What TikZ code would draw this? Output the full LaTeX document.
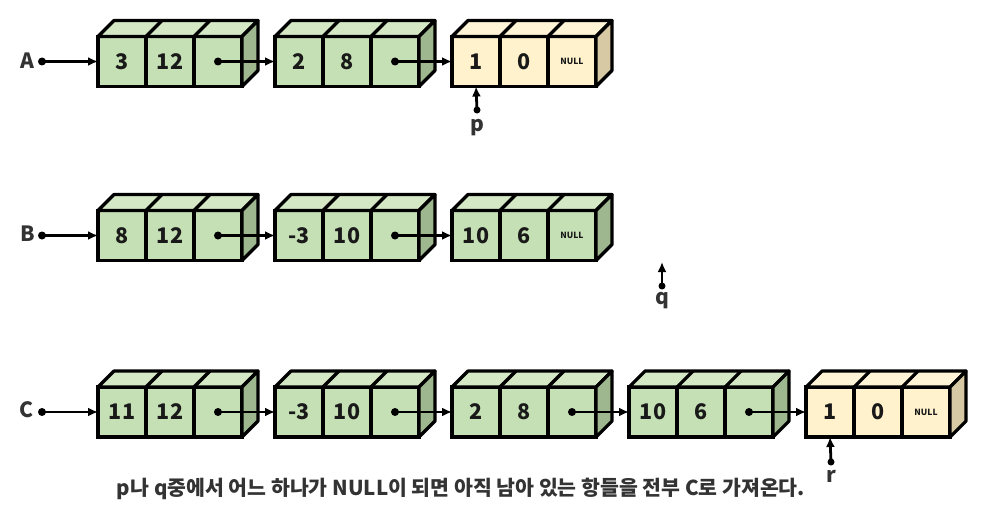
\documentclass[tikz,border=0pt]{standalone}
\usepackage{fontspec}
\setmainfont{Noto Sans CJK KR}
\usetikzlibrary{arrows.meta}
\definecolor{gF}{RGB}{197,224,180}
\definecolor{gT}{RGB}{212,232,198}
\definecolor{gS}{RGB}{158,183,143}
\definecolor{yF}{RGB}{255,242,204}
\definecolor{yT}{RGB}{255,244,214}
\definecolor{yS}{RGB}{214,201,164}
\definecolor{txt}{RGB}{51,51,51}
\tikzset{
  cell/.style={draw,line width=3.2pt,minimum width=48pt,minimum height=50pt,inner sep=0pt,outer sep=0pt,
    font=\bfseries\fontsize{21.5}{21.5}\selectfont,text=black!90},
  face/.style={draw,line width=3.2pt,line join=round},
  ptr/.style={line width=2.8pt,-{Latex[length=10pt,width=9pt]}},
  lbl/.style={font=\bfseries\fontsize{21}{21}\selectfont,text=txt,inner sep=0pt}
}
\newcommand\nulltxt{{\fontsize{8.5}{8.5}\selectfont NULL}}
\newcommand\lnode[7]{%
  \node[cell,fill=#7F] (#1a) at (#2+24,#3) {#4};
  \node[cell,fill=#7F,anchor=west] (#1b) at (#1a.east) {#5};
  \node[cell,fill=#7F,anchor=west] (#1c) at (#1b.east) {#6};
  \draw[face,fill=#7T] (#1a.north west) -- ++(16,-16) -- ([shift={(16,-16)}]#1c.north east) -- (#1c.north east) -- cycle;
  \draw[face] (#1a.north east) -- ++(16,-16);
  \draw[face] (#1b.north east) -- ++(16,-16);
  \draw[face,fill=#7S] (#1c.north east) -- ++(16,-16) -- ++(0,50) -- (#1c.south east) -- cycle;
}
\begin{document}
\begin{tikzpicture}[x=1pt,y=-1pt]
\useasboundingbox (0,0) rectangle (990,511);
% row A
\lnode{A1}{98}{61.5}{3}{12}{}{g}
\lnode{A2}{275}{61.5}{2}{8}{}{g}
\lnode{A3}{452}{61.5}{1}{0}{\nulltxt}{y}
% row B
\lnode{B1}{98}{235.5}{8}{12}{}{g}
\lnode{B2}{275}{235.5}{-3}{10}{}{g}
\lnode{B3}{452}{235.5}{10}{6}{\nulltxt}{g}
% row C
\lnode{C1}{98}{412}{11}{12}{}{g}
\lnode{C2}{275}{412}{-3}{10}{}{g}
\lnode{C3}{452}{412}{2}{8}{}{g}
\lnode{C4}{629}{412}{10}{6}{}{g}
\lnode{C5}{806}{412}{1}{0}{\nulltxt}{y}
% head labels
\node[lbl] (lA) at (27,61) {A};
\node[lbl] (lB) at (28,234) {B};
\node[lbl] (lC) at (27,410) {C};
\coordinate (dA) at (42,61.5);
\coordinate (dB) at (42,235.5);
\coordinate (dC) at (42,412);
\foreach \d in {dA,dB,dC,A1c,A2c,B1c,B2c,C1c,C2c,C3c,C4c}{\fill (\d) circle (4);}
\draw[ptr] (dA) -- (A1a.west);
\draw[ptr] (dB) -- (B1a.west);
\draw[ptr] (dC) -- (C1a.west);
\draw[ptr] (A1c.center) -- (A2a.west);
\draw[ptr] (A2c.center) -- (A3a.west);
\draw[ptr] (B1c.center) -- (B2a.west);
\draw[ptr] (B2c.center) -- (B3a.west);
\draw[ptr] (C1c.center) -- (C2a.west);
\draw[ptr] (C2c.center) -- (C3a.west);
\draw[ptr] (C3c.center) -- (C4a.west);
\draw[ptr] (C4c.center) -- (C5a.west);
% p, q, r
\coordinate (dp) at (477,110);
\coordinate (dq) at (662,286);
\coordinate (tq) at (662,262);
\coordinate (dr) at (831,462);
\fill (dp) circle (3.5);
\fill (dq) circle (3.5);
\fill (dr) circle (3.5);
\draw[ptr] (dp) -- (A3a.south);
\draw[ptr] (dq) -- (tq);
\draw[ptr] (dr) -- (C5a.south);
\node[lbl] (lp) at (477,128) {p};
\node[lbl] (lq) at (662,301) {q};
\node[lbl] (lr) at (831,476) {r};
\node[lbl,font=\bfseries\fontsize{20.5}{20.5}\selectfont] (cap) at (461,489) {p나 q중에서 어느 하나가 NULL이 되면 아직 남아 있는 항들을 전부 C로 가져온다.};
\end{tikzpicture}
\end{document}
